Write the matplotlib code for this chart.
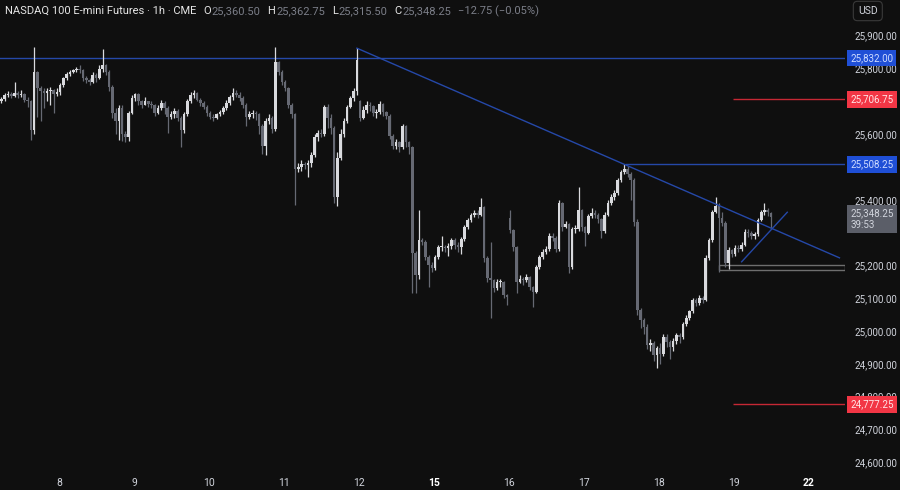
import numpy as np
import matplotlib
matplotlib.use("Agg")
import matplotlib.pyplot as plt
from matplotlib.patches import Rectangle
from matplotlib.transforms import blended_transform_factory

plt.rcParams['font.family'] = ['Roboto', 'DejaVu Sans']

# hourly candles, NASDAQ 100 E-mini
closes = [
    25706, 25718, 25722, 25716, 25725, 25720, 25722, 25704, 25700, 25613,
    25790, 25740, 25730, 25726, 25730, 25735, 25722, 25728, 25750, 25770,
    25782, 25790, 25795, 25798, 25796, 25770, 25765, 25760, 25780, 25770,
    25800, 25810, 25790, 25745, 25665, 25640, 25680, 25600, 25590, 25665,
    25710, 25722, 25700, 25690, 25700, 25692, 25690, 25665, 25680, 25695,
    25680, 25652, 25660, 25672, 25650, 25613, 25660, 25700, 25720, 25725,
    25705, 25695, 25683, 25665, 25652, 25648, 25660, 25668, 25680, 25695,
    25712, 25726, 25720, 25710, 25690, 25652, 25660, 25665, 25660, 25625,
    25565, 25640, 25650, 25615, 25820, 25790, 25760, 25740, 25690, 25660,
    25495, 25500, 25510, 25505, 25512, 25537, 25590, 25604, 25600, 25683,
    25650, 25620, 25409, 25528, 25600, 25640, 25683, 25710, 25730, 25826,
    25650, 25675, 25690, 25685, 25665, 25668, 25692, 25668, 25655, 25595,
    25565, 25575, 25560, 25625, 25575, 25560, 25238, 25171, 25278, 25272,
    25226, 25200, 25192, 25226, 25256, 25256, 25253, 25258, 25278, 25262,
    25255, 25280, 25317, 25339, 25354, 25360, 25355, 25378, 25223, 25162,
    25155, 25131, 25150, 25150, 25110, 25105, 25308, 25256, 25150, 25160,
    25155, 25165, 25134, 25120, 25195, 25226, 25240, 25250, 25290, 25285,
    25250, 25390, 25317, 25325, 25195, 25310, 25312, 25369, 25317, 25300,
    25350, 25360, 25355, 25340, 25305, 25354, 25390, 25409, 25421, 25460,
    25485, 25495, 25480, 25460, 25332, 25064, 25034, 25013, 24958, 24965,
    24927, 24948, 24930, 24982, 24967, 24950, 24970, 24988, 24982, 25020,
    25040, 25060, 25095, 25085, 25101, 25095, 25223, 25278, 25363, 25380,
    25345, 25330, 25208, 25247, 25235, 25253, 25250, 25262, 25302, 25300,
    25290, 25295, 25339, 25363, 25370, 25362, 25348.25,
]
highs = [
    25712, 25724, 25730, 25728, 25760, 25732, 25735, 25726, 25712, 25704,
    25865, 25792, 25748, 25740, 25742, 25745, 25738, 25740, 25755, 25775,
    25790, 25796, 25800, 25806, 25810, 25800, 25776, 25772, 25790, 25785,
    25810, 25860, 25815, 25795, 25750, 25680, 25690, 25690, 25610, 25670,
    25718, 25726, 25725, 25705, 25712, 25700, 25700, 25692, 25690, 25705,
    25700, 25685, 25670, 25680, 25676, 25655, 25668, 25708, 25728, 25735,
    25728, 25710, 25700, 25688, 25670, 25660, 25665, 25675, 25685, 25705,
    25718, 25740, 25735, 25728, 25715, 25695, 25670, 25675, 25670, 25665,
    25630, 25650, 25660, 25655, 25866, 25822, 25795, 25765, 25745, 25695,
    25665, 25512, 25520, 25515, 25520, 25545, 25600, 25612, 25615, 25690,
    25692, 25660, 25625, 25545, 25615, 25650, 25690, 25715, 25740, 25862,
    25705, 25685, 25700, 25698, 25690, 25678, 25700, 25695, 25672, 25660,
    25600, 25585, 25580, 25632, 25628, 25580, 25565, 25245, 25369, 25285,
    25278, 25232, 25210, 25232, 25262, 25290, 25262, 25268, 25285, 25282,
    25272, 25288, 25322, 25345, 25360, 25368, 25368, 25406, 25380, 25230,
    25272, 25160, 25158, 25160, 25152, 25112, 25369, 25312, 25260, 25170,
    25165, 25175, 25168, 25138, 25202, 25232, 25250, 25260, 25298, 25300,
    25290, 25400, 25392, 25335, 25330, 25318, 25322, 25439, 25372, 25320,
    25358, 25375, 25370, 25360, 25345, 25362, 25398, 25418, 25430, 25466,
    25492, 25508, 25502, 25485, 25465, 25340, 25070, 25040, 25020, 24975,
    24970, 24955, 24965, 24992, 24990, 24972, 24978, 24995, 24995, 25028,
    25048, 25065, 25100, 25100, 25110, 25108, 25232, 25285, 25370, 25409,
    25390, 25363, 25335, 25255, 25250, 25262, 25262, 25270, 25310, 25310,
    25305, 25302, 25345, 25370, 25390, 25375, 25362.75,
]
lows = [
    25695, 25700, 25712, 25710, 25712, 25710, 25712, 25698, 25683, 25582,
    25600, 25652, 25640, 25680, 25700, 25690, 25665, 25715, 25720, 25745,
    25765, 25776, 25785, 25788, 25785, 25762, 25755, 25750, 25755, 25760,
    25768, 25790, 25780, 25730, 25650, 25600, 25582, 25580, 25575, 25580,
    25660, 25700, 25690, 25680, 25688, 25683, 25680, 25655, 25660, 25675,
    25660, 25604, 25645, 25650, 25640, 25561, 25605, 25655, 25695, 25710,
    25700, 25685, 25676, 25655, 25645, 25640, 25645, 25655, 25662, 25675,
    25690, 25705, 25712, 25700, 25680, 25625, 25645, 25650, 25643, 25600,
    25540, 25535, 25630, 25605, 25610, 25780, 25750, 25730, 25680, 25650,
    25384, 25485, 25488, 25495, 25470, 25500, 25530, 25580, 25590, 25595,
    25620, 25600, 25390, 25380, 25520, 25590, 25635, 25680, 25700, 25720,
    25640, 25645, 25665, 25670, 25655, 25650, 25660, 25655, 25645, 25585,
    25555, 25555, 25545, 25555, 25560, 25540, 25116, 25116, 25160, 25262,
    25215, 25134, 25180, 25185, 25220, 25245, 25240, 25230, 25250, 25250,
    25240, 25236, 25275, 25310, 25332, 25348, 25345, 25350, 25210, 25150,
    25040, 25120, 25125, 25135, 25100, 25080, 25300, 25245, 25116, 25145,
    25140, 25148, 25125, 25073, 25115, 25190, 25220, 25235, 25245, 25275,
    25240, 25245, 25305, 25315, 25177, 25190, 25300, 25305, 25305, 25260,
    25295, 25345, 25345, 25330, 25285, 25300, 25350, 25385, 25400, 25415,
    25455, 25480, 25470, 25400, 25320, 25050, 25010, 24990, 24945, 24940,
    24910, 24888, 24900, 24925, 24950, 24915, 24940, 24960, 24965, 24975,
    25015, 25035, 25055, 25075, 25080, 25085, 25090, 25215, 25270, 25360,
    25180, 25320, 25195, 25190, 25225, 25230, 25240, 25245, 25258, 25288,
    25280, 25280, 25290, 25335, 25355, 25350, 25315.5,
]
# opens follow the previous close, except where the chart shows a gap
gap_opens = {0: 25700, 110: 25700, 156: 25345, 236: 25360.5}

day_labels = ['8', '9', '10', '11', '12', '15', '16', '17', '18', '19', '22']
week_starts = ['15', '22']

# scale labels that the chart shows (others are covered by price tags)
scale_ticks = [25900, 25800, 25600, 25400, 25200, 25100, 25000, 24900, 24800, 24700, 24600]

resistance = 25832.00
level_mid = 25508.25
red_levels = [25706.75, 24777.25]
trend_pts = [(109, 25862), (191, 25508)]
rising_pts = [(227, 25211), (241, 25362)]
zone = (25186, 25201)

BG = '#0f0f0f'
UP = '#d9dade'
DOWN = '#666973'
BLUE_LINE = '#2548a8'
BLUE_TAG = '#1f4fd6'
RED = '#f23645'
TXT = '#d1d4dc'

opens = [gap_opens.get(0)] + closes[:-1]
for k, v in gap_opens.items():
    opens[k] = v

o = np.array(opens, float)
c = np.array(closes, float)
h = np.maximum(np.array(highs, float), np.maximum(o, c))
l = np.minimum(np.array(lows, float), np.minimum(o, c))
x = np.arange(len(c))
up = c >= o

fig = plt.figure(figsize=(9, 4.9), dpi=100, facecolor=BG)
ax = fig.add_axes([0, 22 / 490, 845 / 900, 468 / 490])
ax.set_facecolor(BG)

xmin, xmax = -0.46, 258.7
ax.set_xlim(xmin, xmax)
ax.set_ylim(24582.6, 26008.8)

# candles
cols = np.where(up, UP, DOWN)
ax.vlines(x, l, h, colors=cols, lw=0.9, zorder=3)
body_lo = np.minimum(o, c)
body_h = np.maximum(np.abs(c - o), 2.5)
ax.bar(x, body_h, bottom=body_lo, width=0.8, color=cols, linewidth=0, zorder=4)

# drawings
ax.axhline(resistance, color=BLUE_LINE, lw=1, zorder=2)
ax.hlines(level_mid, 191.2, xmax, color=BLUE_LINE, lw=1, zorder=2)
for lv in red_levels:
    ax.hlines(lv, 224.4, xmax, color='#c62834', lw=1, zorder=2)

(x1, y1), (x2, y2) = trend_pts
slope = (y2 - y1) / (x2 - x1)
ax.plot([x1, 257], [y1, y1 + slope * (257 - x1)], color=BLUE_LINE, lw=1, zorder=5)
ax.plot([p[0] for p in rising_pts], [p[1] for p in rising_pts], color=BLUE_LINE, lw=1, zorder=5)
ax.add_patch(Rectangle((220, zone[0]), xmax - 220, zone[1] - zone[0],
                       fill=False, ec='#6e6e6e', lw=1, zorder=2))

# right price scale
ax.yaxis.tick_right()
ax.set_yticks(scale_ticks)
ax.set_yticklabels([f'{t:,.2f}' for t in scale_ticks])
ax.tick_params(axis='y', length=0, pad=7, labelsize=7, labelcolor=TXT)

# time scale
ax.set_xticks([17.6 + 23 * k for k in range(len(day_labels))])
ax.set_xticklabels(day_labels)
ax.tick_params(axis='x', length=0, pad=7, labelsize=7.5, labelcolor=TXT)
for t in ax.get_xticklabels():
    if t.get_text() in week_starts:
        t.set_fontweight('bold')
        t.set_color('#ffffff')

for s in ax.spines.values():
    s.set_visible(False)

# price tags
tr = blended_transform_factory(ax.transAxes, ax.transData)
tags = [(resistance, BLUE_TAG, '#cfdcff'), (red_levels[0], RED, '#ffe5e7'),
        (level_mid, BLUE_TAG, '#cfdcff'), (red_levels[1], RED, '#ffe5e7')]
for val, fc, tc in tags:
    ax.text(1.006, val, f'{val:,.2f}', transform=tr, ha='left', va='center',
            fontsize=7, color=tc, clip_on=False, zorder=10,
            bbox=dict(boxstyle='square,pad=0.35', fc=fc, ec='none'))
ax.annotate(f'{closes[-1]:,.2f}\n39:53', xy=(1.006, closes[-1]), xycoords=tr,
            xytext=(0, 6), textcoords='offset points', ha='left', va='top',
            fontsize=7, color=TXT, linespacing=1.2, annotation_clip=False, zorder=10,
            bbox=dict(boxstyle='square,pad=0.35', fc='#5b5e68', ec='none'))

# header
t0 = fig.text(5 / 900, 1 - 11 / 490, 'NASDAQ 100 E-mini Futures · 1h · CME',
              fontsize=8, color='#e6e6e6', va='center')
prev = t0
hdr = [('O', f'{opens[-1]:,.2f}'), ('H', f'{highs[-1]:,.2f}'),
       ('L', f'{lows[-1]:,.2f}'), ('C', f'{closes[-1]:,.2f}')]
for key, val in hdr:
    a = ax.annotate(key, xy=(1, 0.5), xycoords=prev, xytext=(5, 0), textcoords='offset points',
                    fontsize=8, color='#e6e6e6', va='center', annotation_clip=False)
    prev = ax.annotate(val, xy=(1, 0.5), xycoords=a, xytext=(0.5, 0), textcoords='offset points',
                       fontsize=8, color='#7b7e88', va='center', annotation_clip=False)
ax.annotate('−12.75 (−0.05%)', xy=(1, 0.5), xycoords=prev, xytext=(5, 0),
            textcoords='offset points', fontsize=8, color='#7b7e88', va='center',
            annotation_clip=False)

fig.text(858 / 900, 1 - 11 / 490, 'USD', fontsize=7.5, color=TXT, va='center',
         bbox=dict(boxstyle='round,pad=0.45,rounding_size=0.4', fc=BG, ec='#3a3a3a', lw=0.8))

fig.savefig('out.png', dpi=100, facecolor=BG)
